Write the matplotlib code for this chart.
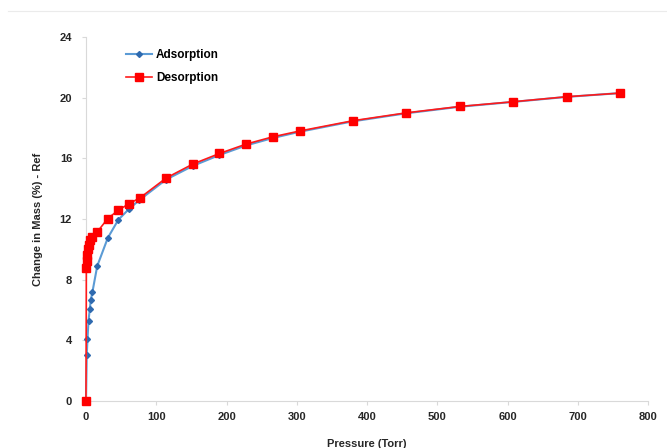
"""Adsorption / desorption isotherm."""

import matplotlib
matplotlib.use("Agg")
import matplotlib.pyplot as plt
from matplotlib.lines import Line2D

plt.rcParams["font.family"] = ["Liberation Sans", "DejaVu Sans"]
plt.rcParams["font.weight"] = "bold"

# pressure (Torr) and mass change (%)
ads_p = [0, 1.1, 2.1, 3.6, 5.4, 6.8, 9.2, 16, 31, 46, 61, 76, 114, 152, 190,
         228, 266, 304, 380, 456, 532, 608, 684, 760]
ads_m = [0, 3.03, 4.09, 5.3, 6.06, 6.66, 7.2, 8.9, 10.75, 11.95, 12.65, 13.25,
         14.6, 15.5, 16.22, 16.85, 17.34, 17.75, 18.44, 18.97, 19.4, 19.72,
         20.05, 20.3]

des_p = [0, 0.5, 1.0, 1.5, 3, 4.5, 6, 8, 16, 31, 46, 61, 77, 114, 152, 190,
         228, 266, 304, 380, 456, 532, 608, 684, 760]
des_m = [0, 8.8, 9.2, 9.6, 10.0, 10.3, 10.6, 10.8, 11.15, 12.03, 12.58, 13.0,
         13.4, 14.7, 15.62, 16.32, 16.94, 17.42, 17.8, 18.48, 19.0, 19.42,
         19.73, 20.06, 20.3]

x_ticks = [0, 100, 200, 300, 400, 500, 600, 700, 800]
y_ticks = [0, 4, 8, 12, 16, 20, 24]

fig = plt.figure(figsize=(6.67, 4.48), dpi=100)
ax = fig.add_axes([86 / 667, 1 - 401 / 448, 562 / 667, 364 / 448])

ax.plot(ads_p, ads_m, color="#5b9bd5", lw=1.5, marker="D", markersize=3,
        markerfacecolor="#2f6aaf", markeredgecolor="#2f6aaf",
        label="Adsorption", zorder=2)
ax.plot(des_p, des_m, color="#ff1a1a", lw=1.2, marker="s", markersize=5.5,
        markerfacecolor="#ff0000", markeredgecolor="#ff0000",
        label="Desorption", zorder=3)

ax.set_xlim(0, 800)
ax.set_ylim(0, 24)
ax.set_xticks(x_ticks)
ax.set_yticks(y_ticks)

for side in ("top", "right"):
    ax.spines[side].set_visible(False)
for side in ("left", "bottom"):
    ax.spines[side].set_color("#d9d9d9")
    ax.spines[side].set_linewidth(0.8)
ax.tick_params(colors="#d9d9d9", labelcolor="#262626", labelsize=8,
               length=3, width=0.8)
ax.tick_params(axis="y", pad=7)
ax.tick_params(axis="x", pad=5)
for line in ax.lines:
    line.set_clip_on(False)

ax.set_xlabel("Pressure (Torr)", fontsize=8, fontweight="bold",
              color="#262626", labelpad=12)
ax.set_ylabel("Change in Mass (%) - Ref", fontsize=8, fontweight="bold",
              color="#262626", labelpad=12)

ax.legend(loc="upper left", bbox_to_anchor=(118 / 667, 1 - 41 / 448),
          bbox_transform=fig.transFigure, frameon=False, fontsize=8.5,
          handlelength=2.2, handletextpad=0.3, labelspacing=0.9,
          borderpad=0.2)

fig.add_artist(Line2D([8 / 667, 1], [1 - 11 / 448] * 2, color="#ebebeb",
                      lw=0.8))

fig.savefig("out.png", dpi=100)
